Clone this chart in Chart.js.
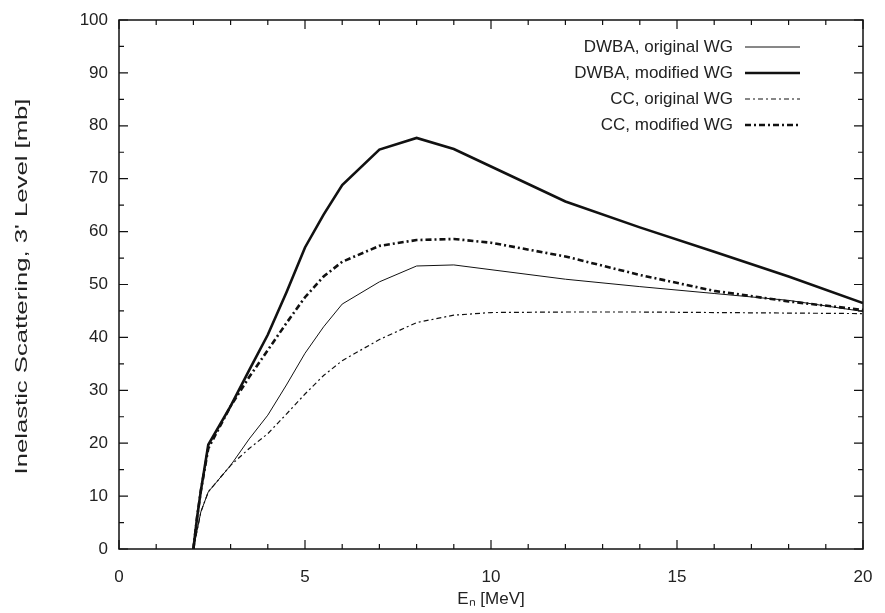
<!DOCTYPE html>
<html>
<head>
<meta charset="utf-8">
<script src="https://cdn.jsdelivr.net/npm/chart.js@4.4.1/dist/chart.umd.min.js"></script>
<style>
  html, body { margin: 0; padding: 0; background: #fff; }
  #wrap { width: 885px; height: 613px; }
</style>
</head>
<body>
<div id="wrap"><canvas id="grafico" width="885" height="613"></canvas></div>
<script>
// energias (MeV) e secoes de choque (mb)
var energias = [2, 2.1, 2.2, 2.4, 3, 3.5, 4, 4.5, 5, 5.5, 6, 7, 8, 9, 10, 12, 14, 16, 18, 20];
var dwbaOriginal = [0, 3.5, 7, 10.8, 15.8, 20.8, 25.3, 31, 37, 42, 46.3, 50.5, 53.5, 53.7, 52.8, 51, 49.6, 48.3, 47, 44.9];
var dwbaModificado = [0, 6, 11, 19.7, 27, 33.8, 40.5, 48.5, 57, 63.2, 68.8, 75.5, 77.7, 75.6, 72.3, 65.7, 60.8, 56.2, 51.5, 46.5];
var ccOriginal = [0, 3.5, 7, 10.8, 15.8, 19, 21.8, 25.5, 29.3, 32.8, 35.6, 39.6, 42.8, 44.2, 44.7, 44.8, 44.8, 44.7, 44.6, 44.5];
var ccModificado = [0, 6, 11, 19, 27, 32.5, 37.6, 42.7, 47.6, 51.5, 54.3, 57.3, 58.4, 58.6, 57.9, 55.3, 51.8, 48.8, 46.8, 45.2];

var nomesSeries = ["DWBA, original WG", "DWBA, modified WG", "CC, original WG", "CC, modified WG"];
var ticksX = [0, 5, 10, 15, 20];
var ticksY = [0, 10, 20, 30, 40, 50, 60, 70, 80, 90, 100];
var tituloY = "Inelastic Scattering, 3' Level [mb]";

var fonte = "'Liberation Sans', Arial, sans-serif";

function montarPontos(valores) {
  var pts = [];
  for (var i = 0; i < energias.length; i++) {
    pts.push({ x: energias[i], y: valores[i] });
  }
  return pts;
}

var estilos = [
  { largura: 1, tracejado: [] },
  { largura: 2.6, tracejado: [] },
  { largura: 1.2, tracejado: [5, 3, 2, 3] },
  { largura: 2.6, tracejado: [6, 3, 2, 3] }
];
var valoresSeries = [dwbaOriginal, dwbaModificado, ccOriginal, ccModificado];

var datasets = [];
for (var i = 0; i < valoresSeries.length; i++) {
  datasets.push({
    label: nomesSeries[i],
    data: montarPontos(valoresSeries[i]),
    borderColor: "#111",
    borderWidth: estilos[i].largura,
    borderDash: estilos[i].tracejado,
    pointRadius: 0,
    showLine: true,
    fill: false,
    tension: 0
  });
}

// moldura, marcas internas, titulo do eixo y e legenda no estilo gnuplot
var pluginMoldura = {
  id: "moldura",
  afterDraw: function (chart) {
    var ctx = chart.ctx;
    var area = chart.chartArea;
    var sx = chart.scales.x;
    var sy = chart.scales.y;
    ctx.save();
    ctx.strokeStyle = "#111";
    ctx.lineWidth = 1.5;
    ctx.setLineDash([]);
    ctx.strokeRect(area.left, area.top, area.right - area.left, area.bottom - area.top);

    ctx.lineWidth = 1.2;
    for (var v = 0; v <= 20; v++) {
      var px = sx.getPixelForValue(v);
      var tam = v % 5 == 0 ? 9 : 5;
      ctx.beginPath();
      ctx.moveTo(px, area.bottom); ctx.lineTo(px, area.bottom - tam);
      ctx.moveTo(px, area.top); ctx.lineTo(px, area.top + tam);
      ctx.stroke();
    }
    for (var w = 0; w <= 100; w += 5) {
      var py = sy.getPixelForValue(w);
      var tam2 = w % 10 == 0 ? 9 : 5;
      ctx.beginPath();
      ctx.moveTo(area.left, py); ctx.lineTo(area.left + tam2, py);
      ctx.moveTo(area.right, py); ctx.lineTo(area.right - tam2, py);
      ctx.stroke();
    }

    // titulo do eixo y (mais esticado, como no original)
    ctx.save();
    ctx.font = "17px " + fonte;
    ctx.fillStyle = "#222";
    ctx.textAlign = "center";
    ctx.textBaseline = "middle";
    var larguraTexto = ctx.measureText(tituloY).width;
    ctx.translate(22, (area.top + area.bottom) / 2 + 2);
    ctx.rotate(-Math.PI / 2);
    ctx.scale(376 / larguraTexto, 1);
    ctx.fillText(tituloY, 0, 0);
    ctx.restore();

    // legenda
    var xTexto = area.right - 130;
    var xLinha1 = area.right - 118;
    var xLinha2 = area.right - 63;
    ctx.font = "17px " + fonte;
    ctx.fillStyle = "#222";
    ctx.textAlign = "right";
    ctx.textBaseline = "middle";
    for (var k = 0; k < chart.data.datasets.length; k++) {
      var ds = chart.data.datasets[k];
      var yl = area.top + 27 + k * 26;
      ctx.fillText(ds.label, xTexto, yl);
      ctx.lineWidth = ds.borderWidth;
      ctx.setLineDash(ds.borderDash);
      ctx.beginPath();
      ctx.moveTo(xLinha1, yl);
      ctx.lineTo(xLinha2, yl);
      ctx.stroke();
    }
    ctx.restore();
  }
};

new Chart(document.getElementById("grafico").getContext("2d"), {
  type: "scatter",
  data: { datasets: datasets },
  plugins: [pluginMoldura],
  options: {
    responsive: false,
    animation: false,
    layout: { padding: { top: 20, right: 22, left: 0, bottom: 0 } },
    plugins: {
      legend: { display: false },
      tooltip: { enabled: false }
    },
    scales: {
      x: {
        type: "linear",
        min: 0,
        max: 20,
        afterBuildTicks: function (s) { s.ticks = ticksX.map(function (v) { return { value: v }; }); },
        afterFit: function (s) { s.height = 64; s.paddingLeft = 0; s.paddingRight = 0; },
        grid: { display: false, drawTicks: false },
        border: { display: false },
        ticks: { color: "#222", font: { family: fonte, size: 17 }, padding: 18, maxRotation: 0 },
        title: {
          display: true,
          text: "Eₙ [MeV]",
          color: "#222",
          font: { family: fonte, size: 17 },
          padding: { top: 0, bottom: 3 }
        }
      },
      y: {
        type: "linear",
        min: 0,
        max: 100,
        afterBuildTicks: function (s) { s.ticks = ticksY.map(function (v) { return { value: v }; }); },
        afterFit: function (s) { s.width = 119; s.paddingTop = 0; s.paddingBottom = 0; },
        grid: { display: false, drawTicks: false },
        border: { display: false },
        ticks: { color: "#222", font: { family: fonte, size: 17 }, padding: 11 },
        title: { display: false }
      }
    }
  }
});
</script>
</body>
</html>
